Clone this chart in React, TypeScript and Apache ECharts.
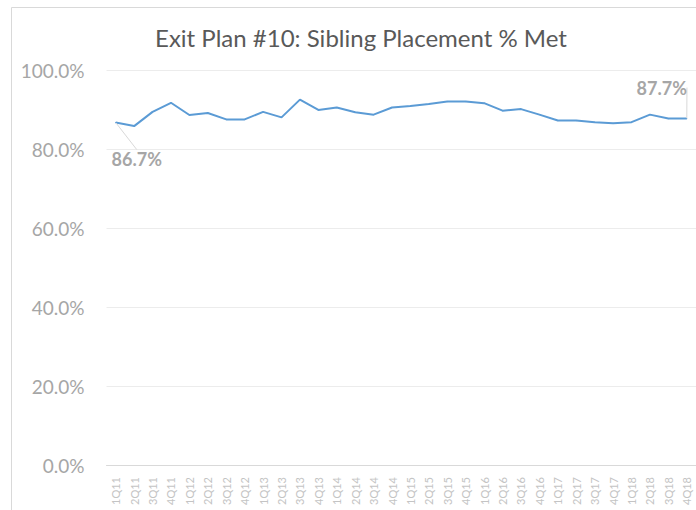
import React, { useEffect, useRef } from "react";
import * as echarts from "echarts";

const categories = [
  "1Q11", "2Q11", "3Q11", "4Q11", "1Q12", "2Q12", "3Q12", "4Q12",
  "1Q13", "2Q13", "3Q13", "4Q13", "1Q14", "2Q14", "3Q14", "4Q14",
  "1Q15", "2Q15", "3Q15", "4Q15", "1Q16", "2Q16", "3Q16", "4Q16",
  "1Q17", "2Q17", "3Q17", "4Q17", "1Q18", "2Q18", "3Q18", "4Q18",
];

const metPct = [
  86.7, 85.8, 89.4, 91.7, 88.6, 89.1, 87.5, 87.5,
  89.4, 88.0, 92.5, 89.9, 90.5, 89.3, 88.7, 90.5,
  90.9, 91.4, 92.0, 92.0, 91.6, 89.7, 90.1, 88.7,
  87.2, 87.2, 86.8, 86.5, 86.8, 88.7, 87.7, 87.7,
];

const yTicks = [0, 20, 40, 60, 80, 100];

const FONT = "Lato, 'Open Sans', sans-serif";

export default function App() {
  const ref = useRef<HTMLDivElement>(null);
  useEffect(() => {
    if (!ref.current) return;
    const chart = echarts.init(ref.current, null, { renderer: "svg" });
    const last = metPct.length - 1;
    const labelStyle = {
      show: true,
      position: "inside",
      formatter: (p: any) => Number(p.value).toFixed(1) + "%",
      color: "#a6a6a6",
      fontSize: 18,
      fontWeight: "bold",
      fontFamily: FONT,
    };
    const lineCfg = { show: true, lineStyle: { color: "#d9d9d9", width: 1 } };
    const data = metPct.map((v, i) => {
      if (i === 0 || i === last) {
        return { value: v, label: labelStyle, labelLine: lineCfg };
      }
      return v;
    });
    chart.setOption({
      animation: false,
      backgroundColor: "#ffffff",
      title: {
        text: "Exit Plan #10: Sibling Placement % Met",
        left: 356,
        top: 20,
        textAlign: "center",
        textStyle: {
          color: "#595959",
          fontSize: 24,
          fontWeight: "normal",
          fontFamily: FONT,
        },
      },
      graphic: [
        {
          type: "rect",
          shape: { x: 11.5, y: 7.5, width: 700, height: 520 },
          style: { fill: "none", stroke: "#d9d9d9", lineWidth: 1 },
          silent: true,
        },
      ],
      grid: { left: 106.5, top: 70, width: 590, height: 395 },
      xAxis: {
        type: "category",
        data: categories,
        boundaryGap: true,
        axisLine: { show: true, lineStyle: { color: "#d9d9d9" } },
        axisTick: { show: false },
        axisLabel: {
          rotate: 90,
          interval: 0,
          margin: 12,
          color: "#c4c4c4",
          fontSize: 11,
          fontFamily: FONT,
        },
      },
      yAxis: {
        type: "value",
        min: yTicks[0],
        max: yTicks[yTicks.length - 1],
        interval: 20,
        axisLine: { show: false },
        axisTick: { show: false },
        splitLine: { lineStyle: { color: "#ececec" } },
        axisLabel: {
          margin: 22,
          color: "#a6a6a6",
          fontSize: 19,
          fontFamily: FONT,
          formatter: (v: number) => v.toFixed(1) + "%",
        },
      },
      series: [
        {
          type: "line",
          data,
          symbol: "circle",
          symbolSize: 1,
          showSymbol: true,
          lineStyle: { color: "#5b9bd5", width: 2 },
          itemStyle: { color: "#5b9bd5" },
          labelLayout: (params: any) => {
            if (params.dataIndex === 0) return { dx: 21, dy: 36, hideOverlap: false };
            if (params.dataIndex === last) return { dx: -25, dy: -31, hideOverlap: false };
            return {};
          },
        },
      ],
    });
    return () => chart.dispose();
  }, []);
  return (
    <div
      ref={ref}
      style={{ position: "fixed", left: 0, top: 0, width: 696, height: 510 }}
    />
  );
}
